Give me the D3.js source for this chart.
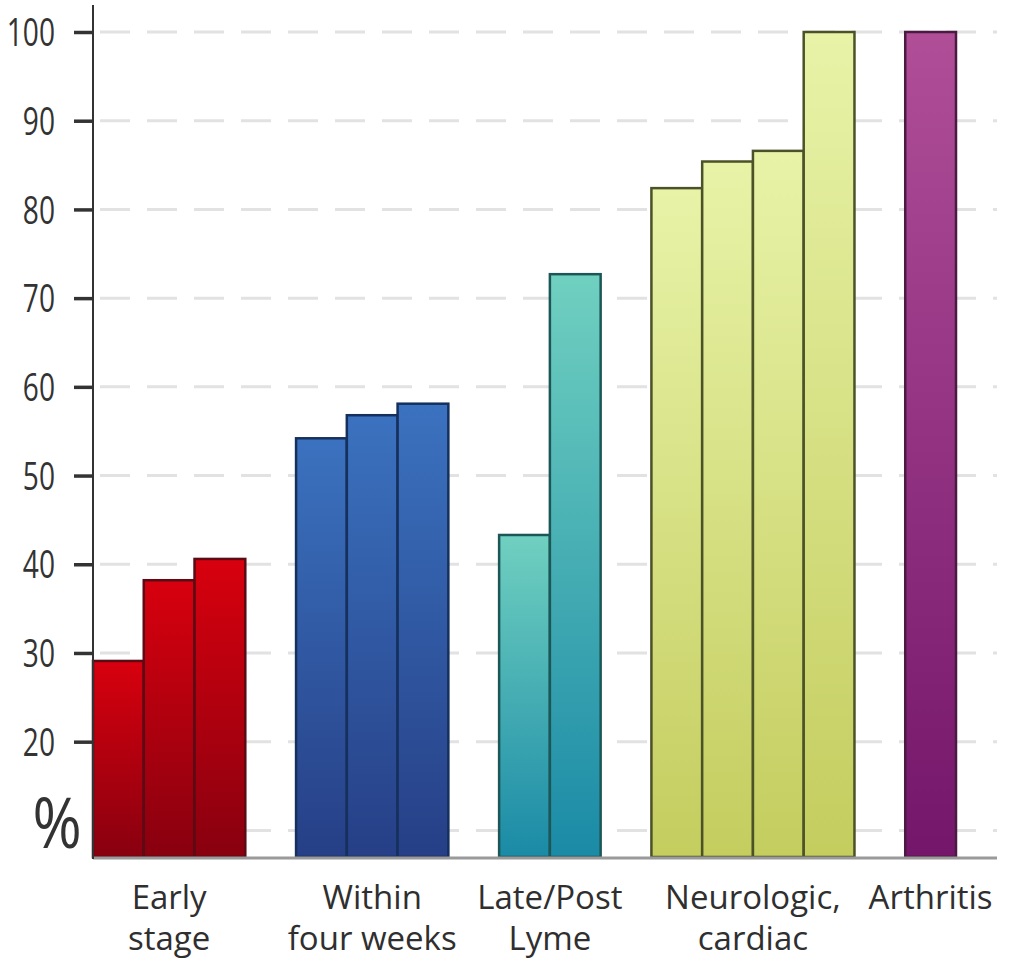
<!DOCTYPE html>
<html>
<head>
<meta charset="utf-8">
<script src="https://cdn.jsdelivr.net/npm/d3@7"></script>
<style>
  body { margin: 0; background: #fff; }
  svg { display: block; }
  .tick-label { font-family: "Open Sans", sans-serif; fill: #333; }
  .cat-label { font-family: "Open Sans", sans-serif; fill: #2f2f2f; }
</style>
</head>
<body>
<div id="chart"></div>
<script>
// data
const groups = ['Early stage', 'Within four weeks', 'Late/Post Lyme', 'Neurologic, cardiac', 'Arthritis'];
const groupLines = [['Early', 'stage'], ['Within', 'four weeks'], ['Late/Post', 'Lyme'], ['Neurologic,', 'cardiac'], ['Arthritis']];
const earlyStage = [29.1, 38.2, 40.6];
const withinFourWeeks = [54.2, 56.8, 58.1];
const latePostLyme = [43.3, 72.7];
const neurologicCardiac = [82.4, 85.4, 86.6, 100];
const arthritis = [100];
const seriesValues = [earlyStage, withinFourWeeks, latePostLyme, neurologicCardiac, arthritis];
const tickValues = [20, 30, 40, 50, 60, 70, 80, 90, 100];
const gridValues = [10, 20, 30, 40, 50, 60, 70, 80, 90, 100];

// colours per group: top, bottom, outline
const palette = [
  {top: '#d8000e', bottom: '#88000f', line: '#5c0a14'},
  {top: '#3b72bf', bottom: '#263f86', line: '#16305e'},
  {top: '#70d0c0', bottom: '#1a8aa6', line: '#1d5656'},
  {top: '#e8f3a8', bottom: '#c4cd5e', line: '#4c5228'},
  {top: '#b04e98', bottom: '#74166a', line: '#4a1a40'}
];

const width = 1017, height = 964;

const svg = d3.select('#chart').append('svg')
  .attr('width', width)
  .attr('height', height);

// each bar takes one slot, one empty slot between groups
let slot = 0;
const bars = [];
const groupSpans = [];
seriesValues.forEach((vals, gi) => {
  const start = slot;
  vals.forEach(v => { bars.push({group: gi, slot: slot, value: v}); slot++; });
  groupSpans.push({group: gi, start: start, end: slot});
  slot++;
});

const x = d3.scaleLinear().domain([0, 17]).range([93, 956]);
const y = d3.scaleLinear().domain([7, 100]).range([857, 32]);

// gradients
const defs = svg.append('defs');
palette.forEach((p, i) => {
  const g = defs.append('linearGradient')
    .attr('id', 'grad' + i)
    .attr('x1', 0).attr('y1', 0).attr('x2', 0).attr('y2', 1);
  g.append('stop').attr('offset', '0%').attr('stop-color', p.top);
  g.append('stop').attr('offset', '100%').attr('stop-color', p.bottom);
});

// dashed grid
svg.append('g')
  .selectAll('line')
  .data(gridValues)
  .join('line')
  .attr('x1', 100)
  .attr('x2', 997)
  .attr('y1', d => y(d))
  .attr('y2', d => y(d))
  .attr('stroke', '#e2e2e2')
  .attr('stroke-width', 3)
  .attr('stroke-dasharray', '30,17');

// bars
svg.append('g')
  .selectAll('rect')
  .data(bars)
  .join('rect')
  .attr('x', d => x(d.slot))
  .attr('y', d => y(d.value))
  .attr('width', d => x(d.slot + 1) - x(d.slot))
  .attr('height', d => y(7) - y(d.value))
  .attr('fill', d => `url(#grad${d.group})`)
  .attr('stroke', d => palette[d.group].line)
  .attr('stroke-width', 2.5);

// baseline
svg.append('line')
  .attr('x1', 93).attr('x2', 997)
  .attr('y1', y(7) + 1).attr('y2', y(7) + 1)
  .attr('stroke', '#9a9a9a')
  .attr('stroke-width', 3);

// y axis
const yAxis = d3.axisLeft(y)
  .tickValues(tickValues)
  .tickSize(19)
  .tickPadding(38)
  .tickFormat(d3.format('d'));

const axisG = svg.append('g')
  .attr('transform', 'translate(93,0)')
  .call(yAxis);

axisG.select('.domain')
  .attr('d', `M0,5V${y(7) + 2}`)
  .attr('stroke', '#333')
  .attr('stroke-width', 2);

axisG.selectAll('.tick line')
  .attr('stroke', '#333')
  .attr('stroke-width', 3.5);

// condensed look for the tick numbers
axisG.selectAll('.tick text')
  .attr('class', 'tick-label')
  .attr('font-size', 38)
  .attr('x', 0)
  .attr('dy', '0.36em')
  .attr('transform', 'translate(-38,0) scale(0.74,1)');

// percent sign
svg.append('text')
  .attr('class', 'tick-label')
  .attr('transform', 'translate(57,848) scale(0.85,1)')
  .attr('text-anchor', 'middle')
  .attr('font-size', 70)
  .text('%');

// category labels
const labels = svg.append('g')
  .selectAll('text')
  .data(groupSpans)
  .join('text')
  .attr('class', 'cat-label')
  .attr('font-size', 33)
  .attr('text-anchor', 'middle')
  .attr('x', d => x((d.start + d.end) / 2))
  .attr('y', 909);

labels.selectAll('tspan')
  .data(d => groupLines[d.group].map(t => ({t, cx: x((d.start + d.end) / 2)})))
  .join('tspan')
  .attr('x', d => d.cx)
  .attr('dy', (d, i) => i === 0 ? 0 : 41)
  .text(d => d.t);
</script>
</body>
</html>
